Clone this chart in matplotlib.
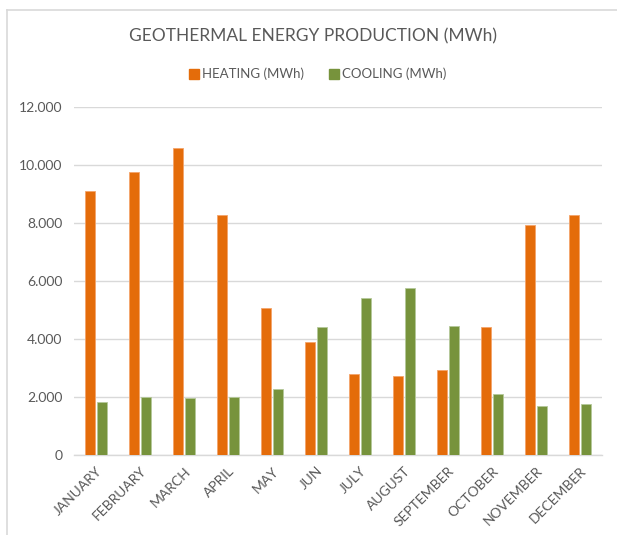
import numpy as np
import matplotlib
matplotlib.use("Agg")
import matplotlib.pyplot as plt
from matplotlib.ticker import FuncFormatter, MultipleLocator
from matplotlib.lines import Line2D

months = ["JANUARY", "FEBRUARY", "MARCH", "APRIL", "MAY", "JUN", "JULY",
          "AUGUST", "SEPTEMBER", "OCTOBER", "NOVEMBER", "DECEMBER"]
heating = [9100, 9770, 10580, 8290, 5060, 3880, 2780, 2720, 2940, 4400, 7920, 8290]
cooling = [1815, 2000, 1960, 2000, 2260, 4400, 5430, 5760, 4440, 2120, 1680, 1760]

orange = "#E46C0A"
green = "#77933C"
txt = "#595959"
grid = "#D9D9D9"

plt.rcParams['font.family'] = ['Lato', 'DejaVu Sans']

fig = plt.figure(figsize=(6.17, 5.35), dpi=100)
W, H = 617, 535
ax = fig.add_axes([74 / W, (H - 455) / H, (602 - 74) / W, (455 - 107) / H])

x = np.arange(len(months))
w = 0.235
gap = 0.045
ax.bar(x - (w + gap) / 2, heating, w, color=orange, edgecolor="#F4A46A", linewidth=0.6,
       label="HEATING (MWh)", zorder=3)
ax.bar(x + (w + gap) / 2, cooling, w, color=green, edgecolor="#B5C99A", linewidth=0.6,
       label="COOLING (MWh)", zorder=3)

ax.set_xlim(-0.5, len(months) - 0.5)
ax.set_ylim(0, 12000)
ax.yaxis.set_major_locator(MultipleLocator(2000))
ax.yaxis.set_major_formatter(FuncFormatter(lambda v, p: "{:,.0f}".format(v).replace(",", ".")))
ax.grid(axis="y", color=grid, linewidth=1, zorder=0)
for s in ["top", "right", "left"]:
    ax.spines[s].set_visible(False)
ax.spines["bottom"].set_color(grid)
ax.spines["bottom"].set_linewidth(1)
ax.tick_params(axis="both", length=0, colors=txt, labelsize=10)
ax.tick_params(axis="y", pad=8.5)
ax.tick_params(axis="x", pad=7)
ax.set_xticks(x)
ax.set_xticklabels(months, rotation=45, ha="right", rotation_mode="anchor", color=txt, fontsize=10)

fig.text(313 / W, 1 - 36 / H, "GEOTHERMAL ENERGY PRODUCTION (MWh)", ha="center", va="center",
         fontsize=12.5, color=txt)

handles = [Line2D([], [], marker="s", linestyle="", color=orange, markersize=7),
           Line2D([], [], marker="s", linestyle="", color=green, markersize=7)]
fig.legend(handles, ["HEATING (MWh)", "COOLING (MWh)"], loc="center",
           bbox_to_anchor=(317 / W, 1 - 74 / H), ncol=2, frameon=False, fontsize=9.5,
           labelcolor=txt, handletextpad=0.1, columnspacing=1.8, handlelength=1.0)

# chart border (top and left edges visible in screenshot)
fig.add_artist(Line2D([7 / W, 1], [1 - 10 / H, 1 - 10 / H], color="#D9D9D9", linewidth=1.2))
fig.add_artist(Line2D([7 / W, 7 / W], [0, 1 - 10 / H], color="#D9D9D9", linewidth=1.2))

fig.savefig("out.png", dpi=100)
